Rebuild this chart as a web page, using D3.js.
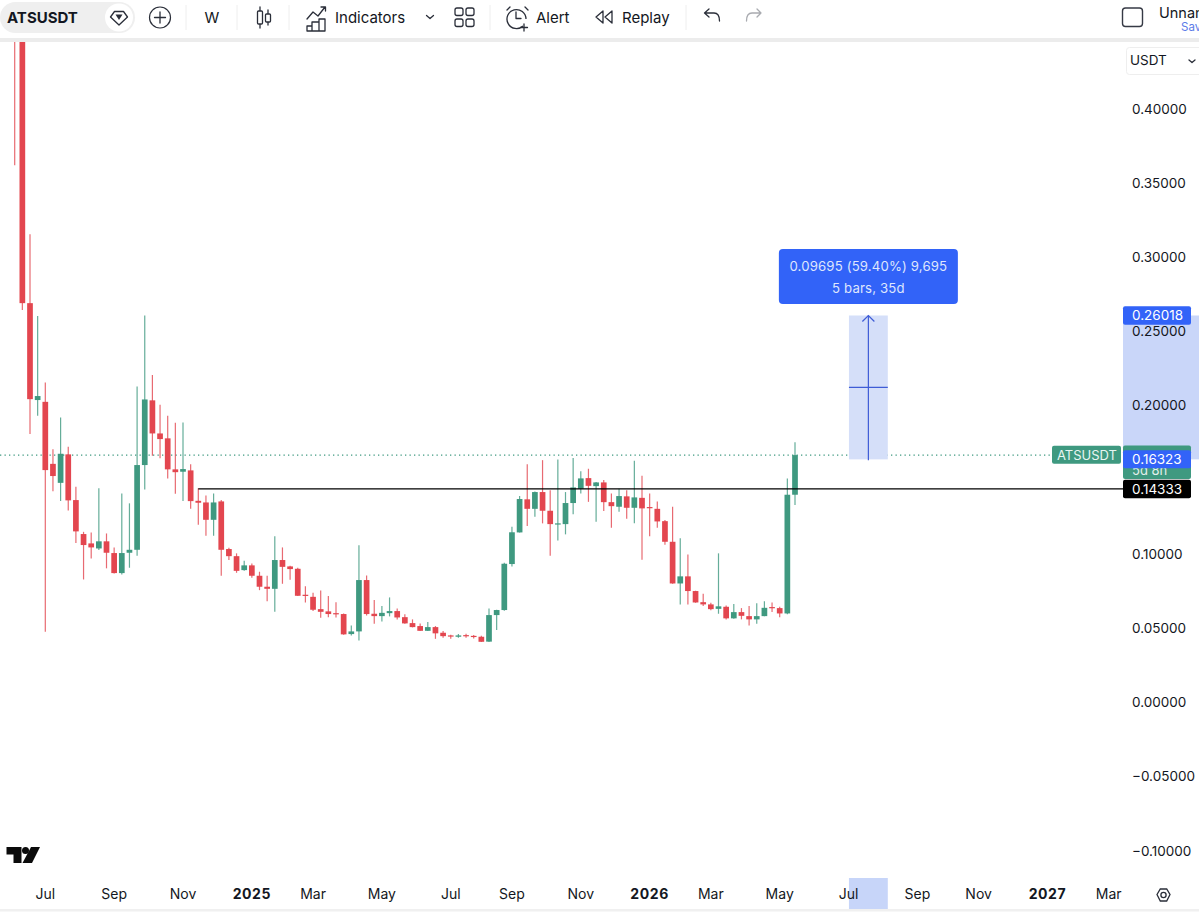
<!DOCTYPE html>
<html><head><meta charset="utf-8">
<script src="https://cdn.jsdelivr.net/npm/d3@7/dist/d3.min.js"></script>
<style>
html,body{margin:0;padding:0;background:#fff;overflow:hidden}
svg{display:block;font-family:Inter,"Noto Sans",sans-serif}
</style></head><body>
<svg id="c" width="1199" height="915"></svg>
<script>
const symbol = "ATSUSDT";
const firstBar = "2024-06-03";
const highs = [.80,.70,.3150,.2598,.2151,.1701,.1915,.1717,.1447,.1144,
.1140,.1437,.1133,.1039,.1403,.1336,.2124,.2602,.2200,.2000,
.1926,.1879,.1881,.1600,.1437,.1389,.1403,.1358,.1036,.0999,
.0949,.0931,.0875,.0848,.1115,.1039,.0915,.0902,.0778,.0733,
.0749,.0711,.0670,.0594,.0513,.1053,.0850,.0684,.0644,.0702,
.0628,.0588,.0554,.0527,.0536,.0509,.0475,.0450,.0455,.0457,
.0448,.0443,.0627,.0619,.0935,.1178,.1385,.1600,.1416,.1627,
.1425,.1632,.1412,.1641,.1553,.1569,.1479,.1493,.1403,.1434,
.1425,.1623,.1522,.1403,.1349,.1223,.1313,.1100,.0992,.0747,
.0726,.0666,.0999,.0648,.0657,.0630,.0644,.0662,.0677,.0668,
.0639,.1504,.1747];
const lows = [.3615,.2638,.1803,.1926,.0470,.1418,.1351,.1288,.1068,.0823,
.0965,.1021,.0898,.0864,.0857,.0902,.0982,.1430,.1656,.1639,
.1504,.1400,.1351,.1299,.1191,.1117,.1117,.0848,.0954,.0868,
.0881,.0834,.0751,.0677,.0605,.0794,.0821,.0711,.0668,.0610,
.0565,.0569,.0567,.0450,.0446,.0412,.0581,.0524,.0540,.0574,
.0554,.0524,.0500,.0475,.0475,.0423,.0430,.0423,.0430,.0430,
.0426,.0401,.0401,.0482,.0613,.0911,.1139,.1183,.1245,.1201,
.0982,.1086,.1127,.1263,.1403,.1346,.1212,.1284,.1171,.1279,
.1232,.1201,.0956,.1115,.1171,.1057,.0794,.0655,.0655,.0666,
.0644,.0615,.0592,.0554,.0558,.0554,.0513,.0524,.0575,.0603,
.0569,.0588,.1324];
const opens = [.70,.50,.2685,.2032,.2020,.1602,.1474,.1666,.1358,.1129,
.1066,.1032,.1080,.1001,.0866,.1003,.1023,.1594,.2030,.1807,
.1774,.1565,.1549,.1558,.1353,.1342,.1225,.1349,.1028,.0980,
.0886,.0918,.0848,.0774,.0760,.0954,.0911,.0895,.0720,.0706,
.0623,.0608,.0596,.0590,.0455,.0473,.0819,.0592,.0576,.0596,
.0610,.0569,.0529,.0509,.0477,.0502,.0464,.0446,.0437,.0448,
.0443,.0437,.0404,.0583,.0617,.0927,.1140,.1363,.1299,.1412,
.1286,.1194,.1196,.1338,.1434,.1506,.1452,.1477,.1344,.1313,
.1383,.1306,.1373,.1311,.1299,.1216,.1077,.0796,.0844,.0745,
.0670,.0655,.0625,.0639,.0561,.0603,.0576,.0554,.0576,.0637,
.0630,.0594,.1394];
const closes = [.50,.2685,.2038,.2059,.1560,.1520,.1670,.1356,.1147,.1055,
.1039,.1080,.1003,.0866,.1001,.1023,.1594,.2036,.1807,.1769,
.1565,.1546,.1567,.1351,.1340,.1225,.1342,.1023,.0980,.0881,
.0918,.0848,.0774,.0760,.0954,.0908,.0893,.0713,.0713,.0619,
.0605,.0590,.0590,.0453,.0473,.0819,.0590,.0576,.0598,.0610,
.0567,.0527,.0502,.0477,.0502,.0460,.0441,.0441,.0446,.0441,
.0439,.0403,.0583,.0617,.0929,.1141,.1365,.1299,.1412,.1286,
.1196,.1201,.1338,.1443,.1504,.1454,.1477,.1344,.1317,.1385,
.1306,.1376,.1302,.1304,.1214,.1077,.0796,.0844,.0745,.0668,
.0655,.0623,.0642,.0561,.0603,.0578,.0554,.0576,.0632,.0632,
.0594,.1394,.1661];
const priceTicks = [0.40,0.35,0.30,0.25,0.20,0.10,0.05,0,-0.05,-0.10];
const tickDates = ["2024-07-01","2024-09-02","2024-11-04","2025-01-06","2025-03-03","2025-05-05","2025-07-07","2025-09-01","2025-11-03","2026-01-05","2026-03-02","2026-05-04","2026-07-06","2026-09-07","2026-11-02","2027-01-04","2027-03-01"];
const tickLabels = ["Jul","Sep","Nov","2025","Mar","May","Jul","Sep","Nov","2026","Mar","May","Jul","Sep","Nov","2027","Mar"];
const lastPrice = 0.1661, hLinePrice = 0.14333, hLineStart = "2024-11-18";
const measureLow = 0.16323, measureHigh = 0.26018, measureStart = "2026-07-06", measureEnd = "2026-08-10";
const measureLine1 = "0.09695 (59.40%) 9,695", measureLine2 = "5 bars, 35d", countdown = "5d 8h";

const UP="#3f9980", DOWN="#e3464f", BLUE="#3263f8", INK="#131722";
const svg=d3.select("#c");
const parse=s=>new Date(s+"T00:00:00Z");
const x=d3.scaleUtc().domain([parse(firstBar),parse("2027-03-01")]).range([14.7,1108.65]);
const y=d3.scaleLinear().domain([-0.1,0.4]).range([850,108]);
const fmt=d3.format(".5f");
const bars=opens.map((o,i)=>({date:d3.utcDay.offset(parse(firstBar),7*i),o,c:closes[i],h:highs[i],l:lows[i]}));

svg.append("rect").attr("width",1199).attr("height",915).attr("fill","#fff");
const defs=svg.append("defs");
defs.append("clipPath").attr("id","plot").append("rect").attr("x",0).attr("y",42).attr("width",1123).attr("height",866);

// axis band highlights
const mx0=x(parse(measureStart))+.4, mx1=x(parse(measureEnd))+1;
svg.append("rect").attr("x",1123).attr("width",76).attr("y",y(measureHigh)).attr("height",y(measureLow)-y(measureHigh)).attr("fill","#c9d6f9");
svg.append("rect").attr("x",mx0).attr("width",mx1-mx0).attr("y",878).attr("height",31).attr("fill","#c7d5f9");

const plot=svg.append("g").attr("clip-path","url(#plot)");
// last price dotted line
plot.append("line").attr("x1",0).attr("x2",1052).attr("y1",y(lastPrice)).attr("y2",y(lastPrice))
  .attr("stroke",UP).attr("stroke-width",1.3).attr("stroke-dasharray","1.3 3.2");

// measure
const mg=plot.append("g");
mg.append("rect").attr("x",mx0).attr("width",mx1-mx0).attr("y",y(measureHigh)).attr("height",y(measureLow)-y(measureHigh)).attr("fill","#d5dff9");
const mc=(mx0+mx1)/2, mid=(measureLow+measureHigh)/2;
mg.append("line").attr("x1",mx0).attr("x2",mx1).attr("y1",y(mid)).attr("y2",y(mid)).attr("stroke","#3f5cd6").attr("stroke-width",1.2);
mg.append("line").attr("x1",mc).attr("x2",mc).attr("y1",y(measureHigh)).attr("y2",y(measureLow)+1).attr("stroke","#3f5cd6").attr("stroke-width",1.2);
mg.append("path").attr("d",`M${mc-6},${y(measureHigh)+6}L${mc},${y(measureHigh)}L${mc+6},${y(measureHigh)+6}`).attr("fill","none").attr("stroke","#3f5cd6").attr("stroke-width",1.2);

// candles
const bw=5.7;
const g=plot.selectAll("g.bar").data(bars).join("g").attr("class","bar");
g.append("line").attr("x1",d=>x(d.date)).attr("x2",d=>x(d.date)).attr("y1",d=>y(d.h)).attr("y2",d=>y(d.l))
  .attr("stroke",d=>d.c>=d.o?UP:DOWN).attr("stroke-width",1.2).attr("opacity",.8);
g.append("rect").attr("x",d=>x(d.date)-bw/2).attr("width",bw)
  .attr("y",d=>y(Math.max(d.o,d.c))).attr("height",d=>Math.max(1.2,Math.abs(y(d.o)-y(d.c))))
  .attr("fill",d=>d.c>=d.o?UP:DOWN);

// horizontal ray
plot.append("line").attr("x1",x(parse(hLineStart))).attr("x2",1123).attr("y1",y(hLinePrice)).attr("y2",y(hLinePrice)).attr("stroke","#000").attr("stroke-width",1.3);

// measure tooltip
const tipC=mc;
svg.append("rect").attr("x",tipC-89.5).attr("y",249).attr("width",179).attr("height",55).attr("rx",4).attr("fill",BLUE);
svg.append("text").attr("x",tipC).attr("y",266).attr("dy",".36em").attr("text-anchor","middle").attr("fill","#dfe6fd").attr("font-size",13.2).attr("letter-spacing",.15).text(measureLine1);
svg.append("text").attr("x",tipC).attr("y",288).attr("dy",".36em").attr("text-anchor","middle").attr("fill","#dfe6fd").attr("font-size",13.2).attr("letter-spacing",.15).text(measureLine2);

// price axis
const ya=d3.axisRight(y).tickValues(priceTicks).tickSize(0).tickPadding(0).tickFormat(fmt);
const yg=svg.append("g").attr("transform","translate(1132,0.7)").call(ya);
yg.select(".domain").remove();
yg.selectAll("text").attr("font-size",13.5).attr("fill",INK).attr("font-family","Inter");

// time axis
const xa=d3.axisBottom(x).tickValues(tickDates.map(parse)).tickSize(0).tickPadding(0).tickFormat((d,i)=>tickLabels[i]);
const xg=svg.append("g").attr("transform","translate(-0.5,889.5)").call(xa);
xg.select(".domain").remove();
xg.selectAll("text").attr("font-size",14).attr("fill",INK).attr("font-family","Inter")
  .attr("font-weight",(d,i)=>/^20/.test(tickLabels[i])?700:400).attr("letter-spacing",(d,i)=>/^20/.test(tickLabels[i])?.6:0);

// price labels
function tag(yc,h,fill){return svg.append("rect").attr("x",1123).attr("y",yc-h/2).attr("width",68).attr("height",h).attr("rx",2).attr("fill",fill);}
function tagText(yc,t,op,fs){svg.append("text").attr("x",1132).attr("y",yc).attr("dy",".36em").attr("font-size",fs||13.5).attr("fill","#fff").attr("opacity",op||1).text(t);}
svg.append("rect").attr("x",1052).attr("y",y(lastPrice)-9.3).attr("width",69).attr("height",18).attr("rx",2).attr("fill",UP);
svg.append("text").attr("x",1087).attr("y",y(lastPrice)).attr("dy",".36em").attr("text-anchor","middle").attr("font-size",13).attr("fill","#e8f5f1").text(symbol);
svg.append("rect").attr("x",1123).attr("y",445.5).attr("width",68).attr("height",33.5).attr("rx",2).attr("fill",UP);
tagText(470.5,countdown,.85,13);
tag(y(measureLow),18,BLUE); tagText(y(measureLow),fmt(measureLow));
tag(y(hLinePrice),18.5,"#000"); tagText(y(hLinePrice),fmt(hLinePrice));
tag(y(measureHigh),18.5,BLUE); tagText(y(measureHigh),fmt(measureHigh));

// frame stripes
svg.append("rect").attr("y",38).attr("width",1199).attr("height",4).attr("fill","#ececec");
svg.append("rect").attr("y",909).attr("width",1199).attr("height",2.5).attr("fill","#f0f0f0");

// toolbar
const tb=svg.append("g");
const S="#2a2e39";
const txt=(t,xx,yy,fs,o={})=>tb.append("text").attr("x",xx).attr("y",yy).attr("dy",".36em").attr("font-size",fs).attr("fill",o.fill||INK).attr("font-weight",o.w||400).attr("text-anchor",o.a||"start").text(t);
const st=(d,c,w)=>tb.append("path").attr("d",d).attr("fill","none").attr("stroke",c||S).attr("stroke-width",w||1.3).attr("stroke-linecap","round").attr("stroke-linejoin","round");
tb.append("rect").attr("x",0).attr("y",2).attr("width",135).attr("height",31).attr("rx",15.5).attr("fill","#efefef");
tb.append("circle").attr("cx",119).attr("cy",17.5).attr("r",14).attr("fill","#fff");
txt(symbol,7,17.5,15,{w:700});
st("M110.5,17L114.5,11.5H123.5L127.5,17L119,25Z");
tb.append("path").attr("d","M115.5,14.5H122.5L119,20Z").attr("fill",S);
tb.append("circle").attr("cx",160).attr("cy",17.5).attr("r",10.5).attr("fill","none").attr("stroke",S).attr("stroke-width",1.2);
st("M160,12V23M154.5,17.5H165.5");
[186,237,289,490,686].forEach(v=>tb.append("line").attr("x1",v).attr("x2",v).attr("y1",5).attr("y2",30).attr("stroke","#eeeeee"));
txt("W",212,18,15,{a:"middle"});
st("M260,7V28M268,10V25");
tb.append("rect").attr("x",257.5).attr("y",11).attr("width",5).attr("height",13).attr("rx",1).attr("fill","#fff").attr("stroke",S).attr("stroke-width",1.3);
tb.append("rect").attr("x",265.5).attr("y",14).attr("width",5).attr("height",8).attr("rx",1).attr("fill","#fff").attr("stroke",S).attr("stroke-width",1.3);
st("M307,19L313,12L318,16L325,7M321,7H325.5V11");
st("M307,31V26H312V31M312,31V22H319V31M319,31V19H325V31H307");
txt("Indicators",335,17.5,15);
st("M426.5,15.5L430,18.5L433.5,15.5");
[[455,8],[466,8],[455,19],[466,19]].forEach(p=>tb.append("rect").attr("x",p[0]).attr("y",p[1]).attr("width",8).attr("height",7.5).attr("rx",2).attr("fill","none").attr("stroke",S).attr("stroke-width",1.3));
tb.append("path").attr("d","M523,26A9.5,9.5 0 1 1 526,19").attr("fill","none").attr("stroke",S).attr("stroke-width",1.3);
st("M516,12V18.5H521M507,10L510,7M525,7L528,10M524,24V31M520.5,27.5H527.5");
txt("Alert",536,17.5,15);
st("M603,11L596,17L603,23ZM612,11L605,17L612,23Z");
txt("Replay",622,17.5,15);
st("M704.5,13H714C718,13 719.5,16 719.5,21M704.5,13L709,9M704.5,13L709,17");
st("M761,13H752C748,13 746.5,16 746.5,21M761,13L757,9M761,13L757,17","#a9abb0");
tb.append("rect").attr("x",1122.5).attr("y",8).attr("width",20).attr("height",18.5).attr("rx",3).attr("fill","none").attr("stroke","#363a45").attr("stroke-width",1.4);
txt("Unnamed",1159,13,14.5);
txt("Save",1181,27,11.5,{fill:"#5b7be8"});
tb.append("rect").attr("x",1126.5).attr("y",47.5).attr("width",90).attr("height",27).attr("rx",3).attr("fill","#fff").attr("stroke","#eeeeee");
txt("USDT",1130,60.5,13.5);
st("M1189,60L1192,62.5L1195,60");

// gear, logo
const gear=svg.append("g");
gear.append("path").attr("d","M1157,894.5L1160.3,889H1166.7L1170,894.5L1166.7,901H1160.3Z").attr("fill","none").attr("stroke",S).attr("stroke-width",1.3);
gear.append("circle").attr("cx",1163.5).attr("cy",895).attr("r",2.6).attr("fill","none").attr("stroke",S).attr("stroke-width",1.3);
const lg=svg.append("g").attr("fill","#0b0b0b");
lg.append("path").attr("d","M6.5,847H21.5V863H13.5V854.5H6.5Z");
lg.append("circle").attr("cx",25.5).attr("cy",850.5).attr("r",3.5);
lg.append("path").attr("d","M31,847H40L32,863H22.5Z");
</script>
</body></html>
